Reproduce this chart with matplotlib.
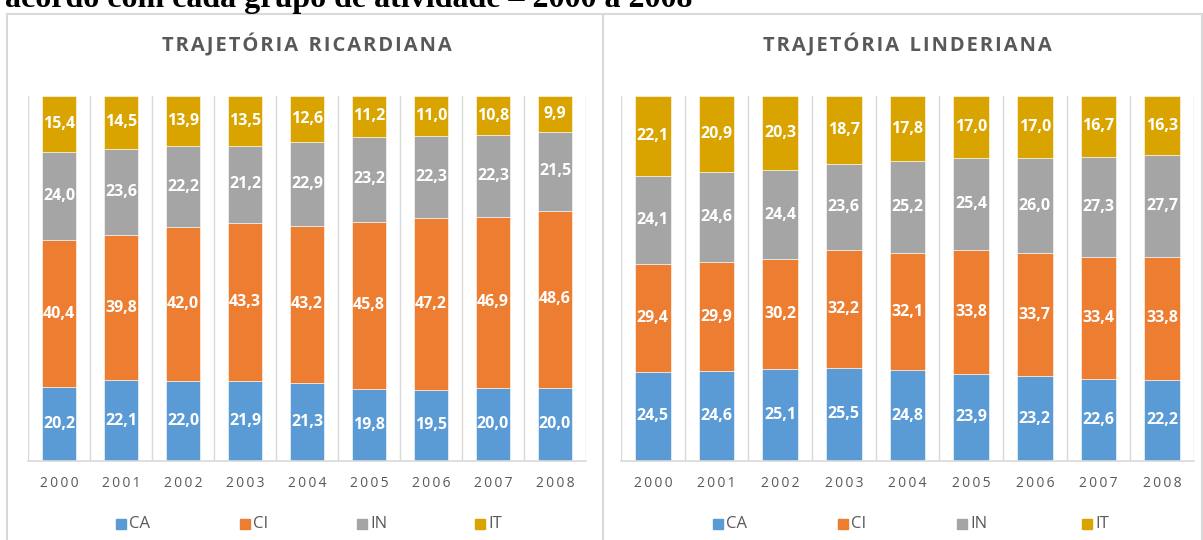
import numpy as np
import matplotlib
matplotlib.use("Agg")
import matplotlib.pyplot as plt
from matplotlib.patches import Rectangle

years = ["2000", "2001", "2002", "2003", "2004", "2005", "2006", "2007", "2008"]
series = ["CA", "CI", "IN", "IT"]
colors = ["#5B9BD5", "#ED7D31", "#A5A5A5", "#DAA400"]

# Trajetoria Ricardiana
ric_ca = [20.2, 22.1, 22.0, 21.9, 21.3, 19.8, 19.5, 20.0, 20.0]
ric_ci = [40.4, 39.8, 42.0, 43.3, 43.2, 45.8, 47.2, 46.9, 48.6]
ric_in = [24.0, 23.6, 22.2, 21.2, 22.9, 23.2, 22.3, 22.3, 21.5]
ric_it = [15.4, 14.5, 13.9, 13.5, 12.6, 11.2, 11.0, 10.8, 9.9]

# Trajetoria Linderiana
lin_ca = [24.5, 24.6, 25.1, 25.5, 24.8, 23.9, 23.2, 22.6, 22.2]
lin_ci = [29.4, 29.9, 30.2, 32.2, 32.1, 33.8, 33.7, 33.4, 33.8]
lin_in = [24.1, 24.6, 24.4, 23.6, 25.2, 25.4, 26.0, 27.3, 27.7]
lin_it = [22.1, 20.9, 20.3, 18.7, 17.8, 17.0, 17.0, 16.7, 16.3]

W, H = 1203, 540
fig = plt.figure(figsize=(W / 100, H / 100), dpi=100)
plt.rcParams['font.family'] = ['Open Sans', 'DejaVu Sans']

grid_c = "#D9D9D9"
text_c = "#595959"


def px_axes(x0, x1, ytop, ybot):
    return fig.add_axes([x0 / W, 1 - ybot / H, (x1 - x0) / W, (ybot - ytop) / H])


def spaced(s):
    # imitate the letter spacing of the original titles
    return "\u200a".join(s).replace("\u200a \u200a", "  ")


# panel frames
fig.patches.append(Rectangle((7 / W, -0.1), (603 - 7) / W, 1.1 - 14 / H,
                             transform=fig.transFigure, fill=False,
                             edgecolor=grid_c, linewidth=1.5))
fig.patches.append(Rectangle((603 / W, -0.1), (1202 - 603) / W, 1.1 - 14 / H,
                             transform=fig.transFigure, fill=False,
                             edgecolor=grid_c, linewidth=1.5))

# caption of the source document, cut at the top as in the original
fig.text(5 / W, 1 - 7 / H, "acordo com cada grupo de atividade – 2000 a 2008",
         family="Liberation Serif", fontweight="bold", fontsize=23,
         va="baseline", ha="left", color="black")


def draw_panel(x0, x1, title, data, legend_x):
    ax = px_axes(x0, x1, 96, 461)
    x = np.arange(len(years))
    bottom = np.zeros(len(years))
    for name, vals, c in zip(series, data, colors):
        vals = np.array(vals)
        ax.bar(x, vals, bottom=bottom, width=0.56, color=c, label=name,
               edgecolor="white", linewidth=0.4, zorder=2)
        for xi, b, v in zip(x, bottom, vals):
            ax.text(xi, b + v / 2, f"{v:.1f}".replace(".", ","), ha="center",
                    va="center", color="white", fontsize=11.5, fontweight="bold",
                    zorder=3)
        bottom += vals
    ax.set_xlim(-0.5, len(years) - 0.5)
    ax.set_ylim(0, 100)
    for b in np.arange(-0.5, len(years), 1.0):
        ax.axvline(b, color=grid_c, linewidth=1, zorder=1)
    ax.set_yticks([])
    ax.set_xticks(x)
    ax.set_xticklabels(["\u2009".join(y) for y in years],
                       color=text_c, fontsize=10)
    ax.tick_params(axis="x", length=0, pad=11)
    for s in ["top", "left", "right"]:
        ax.spines[s].set_visible(False)
    ax.spines["bottom"].set_color(grid_c)
    ax.spines["bottom"].set_linewidth(1.2)
    cx = (x0 + x1) / 2
    fig.text(cx / W, 1 - 45 / H, spaced(title), ha="center", va="center",
             color=text_c, fontsize=14.5, fontweight="bold")
    # legend
    for lx, name, c in zip(legend_x, series, colors):
        fig.patches.append(Rectangle(((lx - 5) / W, 1 - 529 / H), 10 / W, 10 / H,
                                     transform=fig.transFigure, color=c))
        fig.text((lx + 8) / W, 1 - 523.5 / H, name, ha="left", va="center",
                 color=text_c, fontsize=12)


draw_panel(28, 586, "TRAJETÓRIA RICARDIANA",
           [ric_ca, ric_ci, ric_in, ric_it], [121, 245, 362, 480])
draw_panel(621, 1194, "TRAJETÓRIA LINDERIANA",
           [lin_ca, lin_ci, lin_in, lin_it], [718, 843, 962, 1087])

fig.savefig("out.png", dpi=100)
